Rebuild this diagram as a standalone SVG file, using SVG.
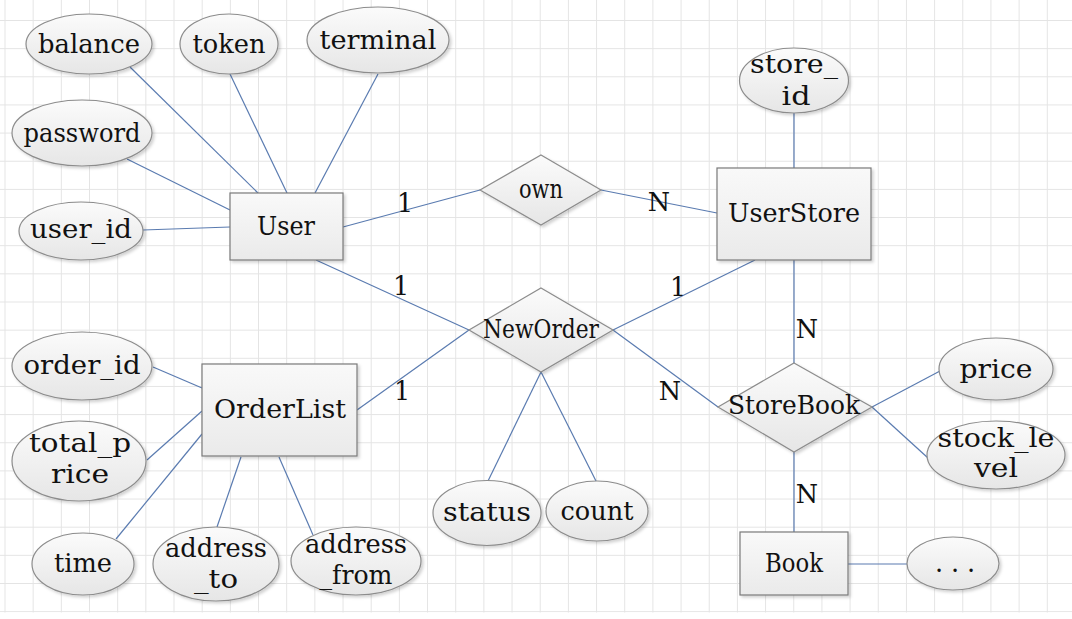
<svg xmlns="http://www.w3.org/2000/svg" width="1072" height="619" viewBox="0 0 1072 619">
<defs>
<pattern id="grid" patternUnits="userSpaceOnUse" x="4.5" y="20" width="28.17" height="28.15">
<path d="M0.5 0 V28.15 M0 0.5 H28.17" stroke="#e4e4e4" stroke-width="1" fill="none"/>
</pattern>
<linearGradient id="gEll" x1="0" y1="0" x2="0" y2="1">
<stop offset="0" stop-color="#fbfbfb"/>
<stop offset="1" stop-color="#e6e6e6"/>
</linearGradient>
<linearGradient id="gBox" x1="0" y1="0" x2="0" y2="1">
<stop offset="0" stop-color="#f9f9f9"/>
<stop offset="1" stop-color="#eaeaea"/>
</linearGradient>
<filter id="sh" x="-10%" y="-10%" width="130%" height="130%">
<feDropShadow dx="2" dy="2" stdDeviation="1.5" flood-color="#000" flood-opacity="0.18"/>
</filter>
<style>
.e{fill:url(#gEll);stroke:#8c8c8c;stroke-width:1.2;filter:url(#sh)}
.b{fill:url(#gBox);stroke:#7a7a7a;stroke-width:1.2;filter:url(#sh)}
.d{fill:url(#gEll);stroke:#8c8c8c;stroke-width:1.2;filter:url(#sh)}
.c line{stroke:#5a7bb0;stroke-width:1.2}
text{font-family:"DejaVu Serif","Liberation Serif",serif;font-size:25.5px;fill:#111;text-anchor:middle}
</style>
</defs>
<rect x="0" y="0" width="1072" height="619" fill="#fff"/>
<rect x="0" y="0" width="1072" height="612.5" fill="url(#grid)"/>

<g id="connectors" class="c">
<line x1="130" y1="67" x2="258" y2="193"/>
<line x1="230" y1="74" x2="287" y2="193"/>
<line x1="378" y1="74" x2="315" y2="193"/>
<line x1="127" y1="159" x2="230" y2="210"/>
<line x1="143" y1="230" x2="230" y2="227"/>
<line x1="343" y1="227" x2="480" y2="190"/>
<line x1="601" y1="190" x2="717" y2="213"/>
<line x1="794" y1="113" x2="794" y2="168"/>
<line x1="316" y1="260" x2="469" y2="330"/>
<line x1="755" y1="260" x2="613" y2="330"/>
<line x1="357" y1="410" x2="469" y2="330"/>
<line x1="613" y1="330" x2="718" y2="407"/>
<line x1="794" y1="260" x2="794" y2="363"/>
<line x1="794" y1="452" x2="794" y2="532"/>
<line x1="848" y1="564" x2="907" y2="564"/>
<line x1="872" y1="407" x2="940" y2="371"/>
<line x1="872" y1="407" x2="928" y2="458"/>
<line x1="541" y1="372" x2="488" y2="481"/>
<line x1="541" y1="372" x2="596" y2="481"/>
<line x1="153" y1="367" x2="202" y2="388"/>
<line x1="147" y1="460" x2="202" y2="411"/>
<line x1="116" y1="539" x2="202" y2="434"/>
<line x1="217" y1="527" x2="241" y2="457"/>
<line x1="313" y1="535" x2="279" y2="457"/>
<text x="405" y="212">1</text>
<text x="659" y="211">N</text>
<text x="401" y="295">1</text>
<text x="678" y="296">1</text>
<text x="402" y="400">1</text>
<text x="670" y="400">N</text>
<text x="807" y="338">N</text>
<text x="807" y="503">N</text>
</g>

<g id="balance"><ellipse class="e" cx="89" cy="44" rx="63" ry="30"/><text x="89" y="53" textLength="102" lengthAdjust="spacingAndGlyphs">balance</text></g>
<g id="token"><ellipse class="e" cx="229" cy="44" rx="49" ry="30"/><text x="229" y="53" textLength="73" lengthAdjust="spacingAndGlyphs">token</text></g>
<g id="terminal"><ellipse class="e" cx="378" cy="40" rx="71" ry="33"/><text x="378" y="49" textLength="117" lengthAdjust="spacingAndGlyphs">terminal</text></g>
<g id="password"><ellipse class="e" cx="82" cy="133" rx="70" ry="33"/><text x="82" y="142" textLength="117" lengthAdjust="spacingAndGlyphs">password</text></g>
<g id="user_id"><ellipse class="e" cx="81" cy="231" rx="62" ry="29"/><text x="81" y="238" textLength="102" lengthAdjust="spacingAndGlyphs">user_id</text></g>
<g id="User"><rect class="b" x="230" y="193" width="113" height="67"/><text x="286" y="235" textLength="58" lengthAdjust="spacingAndGlyphs">User</text></g>
<g id="own"><polygon class="d" points="541,155 601,190 541,225 480,190"/><text x="541" y="198" textLength="44" lengthAdjust="spacingAndGlyphs">own</text></g>
<g id="store_id"><ellipse class="e" cx="794" cy="80.5" rx="54.5" ry="32.5"/><text x="794" y="73" textLength="88" lengthAdjust="spacingAndGlyphs">store_</text><text x="796" y="105" textLength="29" lengthAdjust="spacingAndGlyphs">id</text></g>
<g id="UserStore"><rect class="b" x="717" y="168" width="154" height="92"/><text x="794" y="222" textLength="132" lengthAdjust="spacingAndGlyphs">UserStore</text></g>
<g id="NewOrder"><polygon class="d" points="541,288 613,330 541,372 469,330"/><text x="541" y="338" textLength="116" lengthAdjust="spacingAndGlyphs">NewOrder</text></g>
<g id="StoreBook"><polygon class="d" points="794,363 872,407 794,452 718,407"/><text x="794" y="414" textLength="132" lengthAdjust="spacingAndGlyphs">StoreBook</text></g>
<g id="OrderList"><rect class="b" x="202" y="364" width="155" height="92"/><text x="280" y="418" textLength="132" lengthAdjust="spacingAndGlyphs">OrderList</text></g>
<g id="order_id"><ellipse class="e" cx="82" cy="366" rx="70" ry="34"/><text x="82" y="374" textLength="117" lengthAdjust="spacingAndGlyphs">order_id</text></g>
<g id="total_price"><ellipse class="e" cx="79" cy="461" rx="67" ry="40"/><text x="80" y="452" textLength="102" lengthAdjust="spacingAndGlyphs">total_p</text><text x="80" y="483" textLength="58" lengthAdjust="spacingAndGlyphs">rice</text></g>
<g id="time"><ellipse class="e" cx="83" cy="564" rx="51" ry="31"/><text x="83" y="572" textLength="58" lengthAdjust="spacingAndGlyphs">time</text></g>
<g id="address_to"><ellipse class="e" cx="216" cy="564" rx="63" ry="37"/><text x="216" y="557" textLength="102" lengthAdjust="spacingAndGlyphs">address</text><text x="216" y="588" textLength="44" lengthAdjust="spacingAndGlyphs">_to</text></g>
<g id="address_from"><ellipse class="e" cx="356" cy="561" rx="65" ry="34"/><text x="356" y="553" textLength="102" lengthAdjust="spacingAndGlyphs">address</text><text x="356" y="584" textLength="73" lengthAdjust="spacingAndGlyphs">_from</text></g>
<g id="status"><ellipse class="e" cx="487" cy="513" rx="54" ry="32.5"/><text x="487" y="521" textLength="88" lengthAdjust="spacingAndGlyphs">status</text></g>
<g id="count"><ellipse class="e" cx="597" cy="511" rx="51" ry="30"/><text x="597" y="520" textLength="73" lengthAdjust="spacingAndGlyphs">count</text></g>
<g id="price"><ellipse class="e" cx="996" cy="369" rx="57" ry="31"/><text x="996" y="378" textLength="73" lengthAdjust="spacingAndGlyphs">price</text></g>
<g id="stock_level"><ellipse class="e" cx="996" cy="455" rx="69" ry="34"/><text x="996" y="447" textLength="117" lengthAdjust="spacingAndGlyphs">stock_le</text><text x="996" y="477" textLength="44" lengthAdjust="spacingAndGlyphs">vel</text></g>
<g id="Book"><rect class="b" x="740" y="532" width="108" height="63"/><text x="794" y="572" textLength="58" lengthAdjust="spacingAndGlyphs">Book</text></g>
<g id="etc"><ellipse class="e" cx="953" cy="563.5" rx="46" ry="26.5"/><text x="955" y="572" textLength="40" lengthAdjust="spacing">...</text></g>
</svg>
